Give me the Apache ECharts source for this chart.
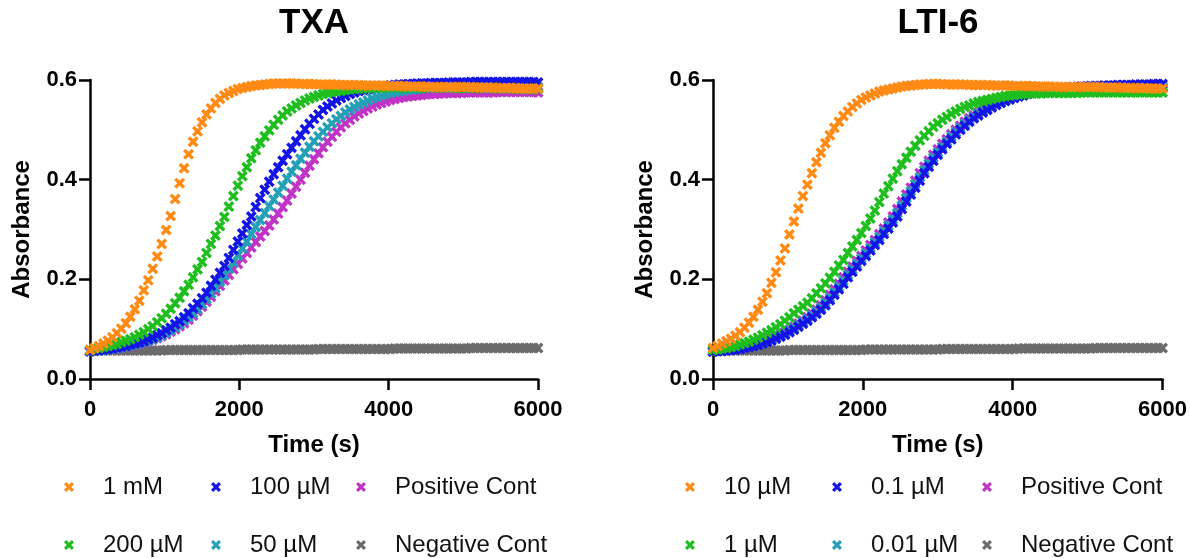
<!DOCTYPE html>
<html><head><meta charset="utf-8">
<script src="https://cdn.jsdelivr.net/npm/echarts@6/dist/echarts.min.js"></script>
<style>html,body{margin:0;padding:0;background:#fff}#c{width:1190px;height:558px}</style>
</head><body><div id="c"></div>
<script>
// time points (s)
const timeS = [0,60,120,180,240,300,360,420,480,540,600,660,720,780,840,900,960,1020,1080,1140,1200,1260,1320,1380,1440,1500,1560,1620,1680,1740,1800,1860,1920,1980,2040,2100,2160,2220,2280,2340,2400,2460,2520,2580,2640,2700,2760,2820,2880,2940,3000,3060,3120,3180,3240,3300,3360,3420,3480,3540,3600,3660,3720,3780,3840,3900,3960,4020,4080,4140,4200,4260,4320,4380,4440,4500,4560,4620,4680,4740,4800,4860,4920,4980,5040,5100,5160,5220,5280,5340,5400,5460,5520,5580,5640,5700,5760,5820,5880,5940,6000];
const xTicks = [0,2000,4000,6000];
const yTicks = [0,0.2,0.4,0.6];

// ---- TXA ----
const txa_1mM = [0.058,0.062,0.066,0.071,0.077,0.084,0.092,0.101,0.112,0.125,0.140,0.157,0.178,0.198,0.221,0.246,0.271,0.299,0.327,0.361,0.393,0.423,0.451,0.476,0.497,0.515,0.531,0.543,0.554,0.562,0.569,0.574,0.578,0.582,0.584,0.586,0.588,0.589,0.590,0.591,0.592,
0.593,0.593,0.593,0.593,0.593,0.593,0.592,0.592,0.592,0.592,
0.591,0.591,0.591,0.591,0.591,0.590,0.590,0.590,0.590,0.590,0.589,0.589,0.589,0.589,0.589,0.588,0.588,0.588,0.588,0.588,0.587,0.587,0.587,0.587,0.587,0.586,0.586,0.586,0.586,0.586,0.586,0.586,0.586,0.586,0.586,0.585,0.585,0.585,0.585,0.585,0.584,0.584,0.584,0.584,0.584,0.583,0.583,0.583,0.583,0.583];
const txa_200uM = [0.058,0.061,0.062,0.064,0.066,0.068,0.070,0.074,0.077,0.080,0.084,0.089,0.094,0.100,0.106,0.114,0.122,0.131,0.141,0.152,0.163,
0.176,0.189,0.204,0.220,0.235,0.253,0.271,0.288,0.307,0.325,0.346,0.367,0.388,0.407,0.425,0.443,0.459,0.474,0.487,0.499,
0.510,0.520,0.529,0.537,0.543,0.549,0.554,0.559,0.563,0.566,0.569,0.572,0.574,0.576,0.577,0.578,0.580,0.581,0.582,0.583,
0.583,0.584,0.584,0.584,0.585,0.585,0.585,0.585,0.585,0.585,0.585,0.585,0.585,0.585,0.585,0.585,0.585,0.585,0.585,0.585,0.584,0.584,0.584,0.584,0.584,0.584,0.584,0.584,0.584,0.584,0.583,0.583,0.583,0.583,0.583,0.582,0.582,0.582,0.582,0.582];
const txa_100uM = [0.056,0.057,0.058,0.059,0.060,0.061,0.063,0.065,0.066,0.069,0.071,0.073,0.076,0.080,0.083,0.088,0.092,0.098,0.103,0.110,0.116,
0.124,0.132,0.142,0.151,0.162,0.173,0.187,0.199,0.213,0.227,0.243,0.259,0.276,0.292,0.309,0.326,0.345,
0.363,0.380,0.396,0.411,0.425,0.438,0.451,0.464,0.477,0.489,0.501,0.512,0.522,0.531,0.540,0.547,0.553,0.559,0.564,0.568,0.572,0.575,0.578,
0.580,0.582,0.584,0.586,0.587,0.588,0.589,0.590,0.591,0.591,
0.592,0.592,0.593,0.593,0.593,0.594,0.594,0.594,0.594,0.595,0.595,0.595,0.595,0.595,0.596,0.596,0.596,0.596,0.596,0.596,0.596,0.596,0.596,0.596,0.596,0.596,0.596,0.596,0.596,0.595];
const txa_50uM = [0.055,0.056,0.057,0.058,0.059,0.060,0.062,0.063,0.065,0.067,0.069,0.071,0.074,0.077,0.080,0.084,0.088,0.093,0.098,0.104,0.110,
0.117,0.124,0.132,0.140,0.150,0.160,0.171,0.182,0.195,0.208,0.221,0.234,0.248,0.262,0.276,0.291,0.305,0.319,0.333,0.347,
0.360,0.374,0.388,0.402,0.416,0.429,0.442,0.454,0.466,0.477,0.487,0.496,0.505,0.513,0.521,0.528,0.535,0.541,0.546,0.551,
0.555,0.559,0.563,0.566,0.569,0.572,0.574,0.576,0.578,0.579,0.580,0.581,0.582,0.583,0.584,
0.585,0.585,0.585,0.585,0.585,0.585,0.585,0.585,0.585,0.585,
0.586,0.586,0.586,0.586,0.586,0.586,0.586,0.586,0.586,0.586,0.586,0.586,0.586,0.586,0.586];
const txa_pos = [0.055,0.056,0.057,0.058,0.059,0.060,0.061,0.063,0.064,0.066,0.068,0.070,0.073,0.076,0.079,0.082,0.086,0.090,0.095,0.100,0.106,
0.112,0.119,0.127,0.136,0.145,0.155,0.165,0.176,0.187,0.198,0.209,0.220,0.231,0.242,0.253,0.264,0.275,0.286,0.297,0.308,
0.320,0.332,0.345,0.358,0.372,0.386,0.400,0.414,0.428,0.441,0.453,0.465,0.476,0.486,0.496,0.505,0.513,0.520,0.527,0.533,
0.538,0.543,0.547,0.551,0.554,0.557,0.560,0.562,0.564,0.566,0.567,0.568,0.569,0.570,0.571,0.572,0.572,0.573,0.573,0.574,
0.574,0.574,0.574,0.575,0.575,0.575,0.575,0.575,0.575,0.575,0.576,0.576,0.576,0.576,0.576,0.576,0.576,0.576,0.576,0.575];
const txa_neg = [0.057,0.057,0.057,0.057,0.057,0.057,0.057,0.057,0.057,0.057,0.057,0.057,0.057,0.057,0.057,0.057,0.057,
0.058,0.058,0.058,0.058,0.058,0.058,0.058,0.058,0.058,0.058,0.058,0.058,0.058,0.058,0.058,0.058,0.058,
0.059,0.059,0.059,0.059,0.059,0.059,0.059,0.059,0.059,0.059,0.059,0.059,0.059,0.059,0.059,0.059,0.059,
0.060,0.060,0.060,0.060,0.060,0.060,0.060,0.060,0.060,0.060,0.060,0.060,0.060,0.060,0.060,0.060,0.060,
0.061,0.061,0.061,0.061,0.061,0.061,0.061,0.061,0.061,0.061,0.061,0.061,0.061,0.061,0.061,0.061,0.061,
0.062,0.062,0.062,0.062,0.062,0.062,0.062,0.062,0.062,0.062,0.062,0.062,0.062,0.062,0.062,0.062];

// ---- LTI-6 ----
const lti_10uM = [0.062,0.066,0.071,0.076,0.081,0.087,0.094,0.103,0.113,0.125,0.139,0.155,0.172,0.193,0.214,0.238,0.262,0.290,0.316,0.342,0.367,
0.390,0.413,0.435,0.454,0.473,0.489,0.504,0.516,0.528,0.537,0.546,0.553,0.560,0.565,0.569,0.573,0.577,0.579,0.581,0.583,
0.585,0.587,0.588,0.589,0.590,0.591,0.591,0.592,0.592,0.592,
0.592,
0.591,0.591,0.591,0.591,0.591,0.590,0.590,0.590,0.590,0.590,0.589,0.589,0.589,0.589,0.589,0.588,0.588,0.588,0.588,0.588,0.587,0.587,0.587,0.587,0.587,0.586,0.586,0.586,0.586,0.586,0.586,0.586,0.586,0.586,0.586,0.585,0.585,0.585,0.585,0.585,0.584,0.584,0.584,0.584,0.584,
0.583,0.583,0.583,0.583];
const lti_1uM = [0.058,0.059,0.061,0.062,0.064,0.066,0.069,0.072,0.075,0.079,0.083,0.088,0.093,0.098,0.104,0.110,0.117,0.124,0.132,0.139,0.146,
0.153,0.162,0.172,0.182,0.192,0.203,0.215,0.228,0.239,0.253,0.266,0.279,0.293,0.307,0.322,0.338,0.355,0.372,0.387,0.402,
0.417,0.431,0.444,0.456,0.468,0.479,0.488,0.497,0.506,0.513,0.520,0.526,0.532,0.537,0.542,0.546,0.549,0.553,0.556,0.558,
0.560,0.562,0.564,0.566,0.568,0.569,0.570,0.571,0.572,0.573,
0.573,0.573,0.573,0.574,0.574,0.574,0.574,0.574,0.574,0.574,0.574,0.575,0.575,0.575,0.575,0.575,0.575,0.575,0.575,0.575,0.575,0.575,0.575,0.575,0.575,0.575,0.575,0.575,0.575,0.575];
const lti_01uM = [0.055,0.056,0.056,0.057,0.058,0.059,0.060,0.062,0.064,0.066,0.068,0.071,0.074,0.077,0.081,0.085,0.089,0.094,0.099,0.105,0.111,
0.117,0.124,0.131,0.139,0.148,0.158,0.169,0.180,0.191,0.204,0.215,0.226,0.237,0.247,0.258,0.269,0.279,0.291,0.302,0.314,
0.326,0.341,0.356,0.370,0.384,0.398,0.413,0.426,0.438,0.450,0.461,0.472,0.481,0.491,0.500,0.508,0.516,0.523,0.529,0.535,
0.540,0.545,0.550,0.554,0.558,0.561,0.564,0.567,0.569,0.572,0.574,0.576,0.578,0.579,0.580,0.581,0.582,0.583,0.584,0.586,
0.586,0.587,0.587,0.588,0.588,0.588,0.589,0.589,0.589,0.590,0.590,0.590,0.590,0.591,0.591,0.591,0.591,0.592,0.592,0.592];
const lti_001uM = [0.055,0.056,0.057,0.057,0.058,0.060,0.061,0.063,0.065,0.067,0.070,0.072,0.075,0.079,0.083,0.087,0.091,0.097,0.102,0.108,0.114,
0.120,0.127,0.135,0.143,0.153,0.163,0.174,0.185,0.197,0.209,0.220,0.231,0.242,0.252,0.263,0.274,0.285,0.296,0.308,0.320,
0.333,0.348,0.363,0.377,0.391,0.405,0.419,0.432,0.444,0.455,0.466,0.476,0.486,0.495,0.504,0.512,0.519,0.526,0.532,0.537,
0.542,0.547,0.552,0.556,0.559,0.562,0.565,0.568,0.570,0.573,0.575,0.577,0.578,0.580,0.581,0.582,0.583,0.584,0.585,0.585,
0.586,0.586,0.586,0.586,0.586,0.587,0.587,0.587,0.587,0.587,0.587,0.587,0.587,0.587,0.587,0.587,0.587,0.587,0.587,0.587];
const lti_pos = [0.055,0.056,0.057,0.058,0.059,0.060,0.062,0.064,0.066,0.068,0.071,0.074,0.077,0.081,0.085,0.089,0.094,0.099,0.105,0.111,0.117,
0.124,0.131,0.139,0.148,0.158,0.169,0.180,0.191,0.204,0.215,0.226,0.237,0.247,0.258,0.269,0.279,0.291,0.302,0.314,0.326,
0.341,0.356,0.370,0.384,0.398,0.413,0.426,0.438,0.450,0.461,0.472,0.481,0.491,0.500,0.508,0.516,0.523,0.529,0.535,0.540,
0.545,0.550,0.554,0.558,0.561,0.564,0.567,0.569,0.572,0.574,0.576,0.578,0.579,0.580,0.581,0.582,0.583,0.584,0.584,
0.585,0.585,0.585,0.585,0.585,0.585,0.585,0.585,0.585,0.585,0.585,0.585,0.585,0.585,0.585,0.585,0.585,0.585,0.585,0.585,0.585];
const lti_neg = txa_neg.slice();

const txaNames = ['1 mM','200 µM','100 µM','50 µM','Positive Cont','Negative Cont'];
const ltiNames = ['10 µM','1 µM','0.1 µM','0.01 µM','Positive Cont','Negative Cont'];
const colors = ['#FF8A14','#1FBE1F','#1414E6','#23A0B5','#C133C6','#6B6B6B'];

const XSYM = 'path://M0,2.2L2.2,0L5,2.8L7.8,0L10,2.2L7.2,5L10,7.8L7.8,10L5,7.2L2.2,10L0,7.8L2.8,5Z';
const FONT = 'Liberation Sans, Arial, Helvetica, sans-serif';

function pairs(vals){ return vals.map((v,i)=>[timeS[i], v]); }
function ser(name, vals, color, g){
  return {type:'scatter', name:name, xAxisIndex:g, yAxisIndex:g, data:pairs(vals),
    symbol:XSYM, symbolSize:11, itemStyle:{color:color, opacity:1}, silent:true, animation:false};
}
// drawing order: last on top (first data set on top)
const series = [];
const txaVals = [txa_1mM, txa_200uM, txa_100uM, txa_50uM, txa_pos, txa_neg];
const ltiVals = [lti_10uM, lti_1uM, lti_01uM, lti_001uM, lti_pos, lti_neg];
for (let k=5;k>=0;k--) series.push(ser(txaNames[k], txaVals[k], colors[k], 0));
for (let k=5;k>=0;k--) series.push(ser(ltiNames[k], ltiVals[k], colors[k], 1));

function xAx(g){
  return {gridIndex:g, type:'value', min:0, max:6000, interval:2000,
    axisLine:{show:true, onZero:false, lineStyle:{color:'#000', width:2.5}},
    axisTick:{show:true, inside:false, length:11, lineStyle:{color:'#000', width:2.5}},
    axisLabel:{color:'#000', fontFamily:FONT, fontWeight:'bold', fontSize:22, margin:20,
      formatter:(v)=>String(v)},
    splitLine:{show:false},
    name:'Time (s)', nameLocation:'middle', nameGap:54,
    nameTextStyle:{color:'#000', fontFamily:FONT, fontWeight:'bold', fontSize:24}};
}
function yAx(g){
  return {gridIndex:g, type:'value', min:0, max:0.6, interval:0.2,
    axisLine:{show:true, lineStyle:{color:'#000', width:2.5}},
    axisTick:{show:true, inside:false, length:11, lineStyle:{color:'#000', width:2.5}},
    axisLabel:{color:'#000', fontFamily:FONT, fontWeight:'bold', fontSize:22, margin:13,
      formatter:(v)=>v.toFixed(1)},
    splitLine:{show:false},
    name:'Absorbance', nameLocation:'middle', nameGap:56, nameRotate:90,
    nameTextStyle:{color:'#000', fontFamily:FONT, fontWeight:'bold', fontSize:24}};
}
function leg(name, color, left, top){
  return {data:[{name:name, icon:XSYM, itemStyle:{color:color}}], left:left, top:top,
    itemWidth:10, itemHeight:10, selectedMode:false, padding:0,
    textStyle:{color:'#111', fontFamily:FONT, fontSize:24, padding:[0,0,0,24]}};
}
const legends = [];
const lcolsL = [64, 211, 356], lcolsR = [685, 832, 982], lrows = [475, 533];
// legend layout: col1: names 0,1 ; col2: 2,3 ; col3: 4,5
for (let c=0;c<3;c++) for (let r=0;r<2;r++){
  const k = c*2 + r;
  legends.push(leg(txaNames[k], colors[k], lcolsL[c], lrows[r]));
  legends.push(leg(ltiNames[k], colors[k], lcolsR[c], lrows[r]));
}

const chart = echarts.init(document.getElementById('c'), null, {renderer:'canvas'});
chart.setOption({
  backgroundColor:'#fff',
  animation:false,
  title:[
    {text:'TXA', left:314, top:6, padding:0, textAlign:'center', textStyle:{color:'#000', fontFamily:FONT, fontWeight:'bold', fontSize:35}},
    {text:'LTI-6', left:938, top:6, padding:0, textAlign:'center', textStyle:{color:'#000', fontFamily:FONT, fontWeight:'bold', fontSize:35}}
  ],
  grid:[
    {left:90, top:80, width:448, height:299, containLabel:false},
    {left:713, top:80, width:450, height:299, containLabel:false}
  ],
  xAxis:[xAx(0), xAx(1)],
  yAxis:[yAx(0), yAx(1)],
  legend:legends,
  series:series
});
</script></body></html>
